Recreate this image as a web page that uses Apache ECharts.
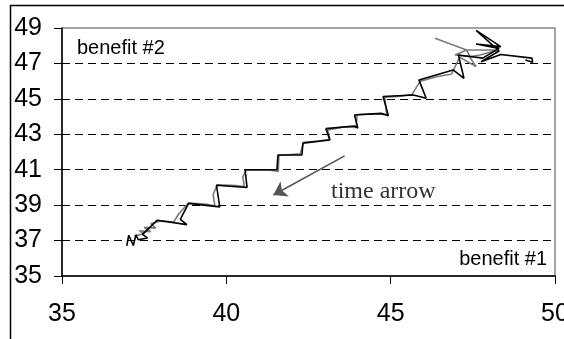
<!DOCTYPE html>
<html><head><meta charset="utf-8">
<script src="https://cdn.jsdelivr.net/npm/echarts@6/dist/echarts.min.js"></script>
<style>html,body{margin:0;padding:0;background:#fff}#c{width:564px;height:339px}</style>
</head><body><div id="c"></div>
<script>
// ---- data ----
const xTicks = [35, 40, 45, 50];
const yTicks = [35, 37, 39, 41, 43, 45, 47, 49];
const blackX = [36.97,37.03,37.17,37.25,37.32,37.6,37.45,37.9,38.8,38.6,38.85,39.8,39.7,40.63,40.57,41.54,41.57,42.3,42.33,43.15,43.03,43.89,44.0,43.9,44.71,44.93,44.77,45.69,46.08,45.86,46.9,47.23,47.06,47.8,48.3,47.6,48.35,47.6,48.3,47.75,48.35,49.3,49.32,49.1];
const blackY = [36.7,37.3,36.72,37.32,37.05,37.15,37.35,38.15,37.9,38.2,39.1,38.9,40.12,40.0,41.0,41.0,41.83,41.83,42.5,42.68,43.32,43.47,43.35,44.09,44.18,44.05,45.13,45.22,45.03,46.07,46.63,46.16,47.48,47.3,47.85,48.1,47.95,48.87,47.7,47.1,47.5,47.3,47.06,47.2];
const grayX = [37.2,37.5,37.35,37.7,37.5,37.85,37.7,38.0,38.4,38.55,38.85,39.4,39.65,39.6,39.72,40.3,40.55,40.5,40.62,41.3,41.58,41.6,42.25,42.35,42.8,43.15,43.08,43.6,43.95,43.98,44.5,44.88,44.82,45.3,45.65,45.9,46.4,46.85,47.1,47.6,47.4,47.72,48.27,47.31,46.96,47.41,47.31,46.35];
const grayY = [37.25,37.4,37.55,37.5,37.75,37.7,37.95,38.1,38.05,38.5,39.12,39.05,38.95,39.6,40.15,40.1,40.05,40.6,41.0,40.98,40.9,41.8,41.9,42.55,42.62,42.72,43.25,43.42,43.38,44.12,44.15,44.12,45.1,45.15,45.25,46.0,46.25,46.4,47.35,46.82,47.38,47.48,47.76,47.76,47.48,47.38,47.76,48.42];
const arrowFrom = [43.6, 41.78];
const arrowTo = [41.43, 39.57];
const yAxisName = 'benefit #2';
const xAxisName = 'benefit #1';
const arrowText = 'time arrow';

const zip = (a, b) => a.map((v, i) => [v, b[i]]);
const sans = 'Liberation Sans, Arial, sans-serif';

const chart = echarts.init(document.getElementById('c'), null, {renderer: 'canvas'});
chart.setOption({
  animation: false,
  backgroundColor: '#fff',
  grid: {left: 62, top: 28, right: 9, bottom: 63, containLabel: false, outerBoundsMode: 'none',
         show: true, borderColor: '#888', borderWidth: 1.5, backgroundColor: 'transparent'},
  xAxis: {
    type: 'value', min: xTicks[0], max: xTicks[xTicks.length - 1], interval: 5,
    axisLine: {show: true, onZero: false, lineStyle: {color: '#000', width: 1.5}},
    axisTick: {show: true, length: 8, lineStyle: {color: '#000', width: 1}},
    axisLabel: {fontSize: 25, fontFamily: sans, color: '#000', margin: 26, hideOverlap: false},
    splitLine: {show: false}
  },
  yAxis: {
    type: 'value', min: yTicks[0], max: yTicks[yTicks.length - 1], interval: 2,
    axisLine: {show: true, onZero: false, lineStyle: {color: '#000', width: 1.5}},
    axisTick: {show: true, length: 8, lineStyle: {color: '#000', width: 1}},
    axisLabel: {fontSize: 25, fontFamily: sans, color: '#000', margin: 20, hideOverlap: false},
    splitLine: {show: true, showMinLine: false, showMaxLine: false, lineStyle: {color: '#000', width: 1, type: [8, 5]}}
  },
  series: [
    {type: 'line', data: zip(grayX, grayY), showSymbol: false, symbol: 'none', z: 3,
     lineStyle: {color: '#7a7a7a', width: 1.6}},
    {type: 'line', data: zip(blackX, blackY), showSymbol: false, symbol: 'none', z: 4,
     lineStyle: {color: '#000', width: 1.6}},
    {type: 'lines', coordinateSystem: 'cartesian2d', z: 5,
     symbol: ['none', 'arrow'], symbolSize: [0, 13],
     lineStyle: {color: '#555', width: 1.6, opacity: 1},
     itemStyle: {color: '#666'},
     data: [{coords: [arrowFrom, arrowTo]}]}
  ],
  graphic: [
    {type: 'polyline', shape: {points: [[10.5, 339], [10.5, 5.5], [564, 5.5]]}, style: {stroke: '#000', lineWidth: 1.5, fill: null}, z: 10},
    {type: 'text', style: {text: yAxisName, x: 77, y: 48.5, font: '20px ' + sans, fill: '#000', textAlign: 'left', textVerticalAlign: 'middle'}, z: 10},
    {type: 'text', style: {text: xAxisName, x: 547, y: 259.5, font: '20px ' + sans, fill: '#000', textAlign: 'right', textVerticalAlign: 'middle'}, z: 10},
    {type: 'text', style: {text: arrowText, x: 331, y: 192, font: '24px Liberation Serif, Times New Roman, serif', fill: '#333', textAlign: 'left', textVerticalAlign: 'middle'}, z: 10}
  ]
});
</script></body></html>
